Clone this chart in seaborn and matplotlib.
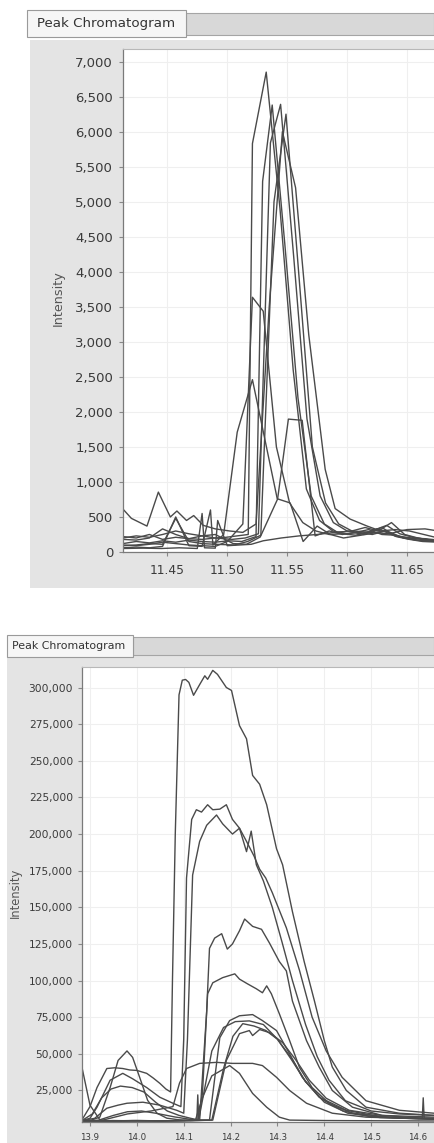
import pandas as pd
import seaborn as sns
import matplotlib.pyplot as plt
from matplotlib.patches import Rectangle
from matplotlib.ticker import FuncFormatter

# ---- top panel: peak near 11.55 min ----
top1_t = [11.413, 11.424, 11.435, 11.446, 11.457, 11.468, 11.479, 11.490, 11.499, 11.5175, 11.521, 11.5325, 11.544, 11.555, 11.566, 11.577, 11.588, 11.599, 11.610, 11.621, 11.632, 11.643, 11.654, 11.665, 11.676]
top1_i = [220, 200, 250, 180, 210, 190, 230, 200, 210, 250, 5830, 6850, 4900, 2600, 900, 450, 300, 260, 280, 250, 300, 220, 200, 190, 170]

top2_t = [11.413, 11.424, 11.435, 11.446, 11.457, 11.468, 11.479, 11.490, 11.501, 11.512, 11.524, 11.5295, 11.5375, 11.548, 11.559, 11.570, 11.581, 11.592, 11.603, 11.614, 11.625, 11.636, 11.647, 11.658, 11.676]
top2_i = [120, 150, 130, 160, 140, 170, 150, 140, 160, 150, 220, 5290, 6380, 4400, 2200, 800, 400, 280, 300, 250, 330, 280, 200, 170, 150]

top3_t = [11.413, 11.424, 11.435, 11.446, 11.457, 11.468, 11.479, 11.490, 11.504, 11.515, 11.526, 11.536, 11.5445, 11.5555, 11.5665, 11.5775, 11.5885, 11.600, 11.611, 11.622, 11.633, 11.644, 11.655, 11.666, 11.676]
top3_i = [180, 170, 200, 330, 250, 190, 180, 200, 180, 200, 260, 5840, 6390, 4200, 1900, 800, 420, 300, 260, 310, 380, 260, 210, 180, 160]

top4_t = [11.413, 11.424, 11.435, 11.446, 11.457, 11.468, 11.479, 11.490, 11.506, 11.517, 11.528, 11.539, 11.549, 11.560, 11.571, 11.582, 11.593, 11.604, 11.615, 11.626, 11.637, 11.648, 11.659, 11.676]
top4_i = [90, 100, 120, 110, 480, 150, 120, 110, 100, 150, 240, 5000, 6250, 3900, 1500, 700, 400, 300, 350, 300, 420, 250, 200, 150]

top5_t = [11.411, 11.420, 11.433, 11.4425, 11.4525, 11.458, 11.466, 11.472, 11.480, 11.490, 11.502, 11.513, 11.524, 11.535, 11.546, 11.557, 11.568, 11.5817, 11.590, 11.6025, 11.6167, 11.628, 11.640, 11.652, 11.664, 11.676]
top5_i = [650, 480, 370, 855, 500, 585, 450, 520, 380, 330, 300, 280, 400, 3500, 6000, 5200, 3100, 1180, 620, 470, 370, 300, 320, 300, 250, 200]

top6_t = [11.413, 11.424, 11.435, 11.446, 11.457, 11.468, 11.479, 11.490, 11.500, 11.513, 11.521, 11.530, 11.541, 11.552, 11.563, 11.574, 11.585, 11.596, 11.607, 11.618, 11.629, 11.640, 11.651, 11.662, 11.676]
top6_i = [100, 90, 110, 140, 120, 100, 90, 80, 150, 400, 3636, 3437, 1500, 700, 420, 300, 250, 260, 240, 280, 350, 230, 190, 160, 150]

top7_t = [11.413, 11.424, 11.435, 11.446, 11.457, 11.468, 11.479, 11.486, 11.488, 11.497, 11.5083, 11.521, 11.5417, 11.5525, 11.5633, 11.575, 11.586, 11.597, 11.608, 11.619, 11.630, 11.641, 11.652, 11.663, 11.676]
top7_i = [60, 70, 60, 80, 500, 90, 80, 600, 100, 250, 1710, 2460, 760, 700, 150, 370, 250, 200, 230, 260, 300, 220, 180, 150, 140]

top8_t = [11.413, 11.424, 11.435, 11.446, 11.457, 11.468, 11.479, 11.490, 11.505, 11.516, 11.5275, 11.542, 11.551, 11.5625, 11.5733, 11.585, 11.596, 11.607, 11.618, 11.629, 11.640, 11.651, 11.662, 11.676]
top8_i = [200, 230, 210, 250, 300, 260, 230, 250, 120, 110, 214, 756, 1897, 1880, 230, 300, 250, 280, 320, 250, 240, 200, 180, 170]

top9_t = [11.413, 11.430, 11.445, 11.460, 11.475, 11.479, 11.481, 11.490, 11.492, 11.500, 11.510, 11.520, 11.530, 11.545, 11.560, 11.575, 11.590, 11.605, 11.620, 11.635, 11.650, 11.665, 11.676]
top9_i = [50, 55, 50, 60, 50, 550, 60, 55, 450, 90, 100, 110, 160, 200, 230, 250, 280, 300, 280, 260, 320, 330, 300]

top_yticks = list(range(0, 7001, 500))
top_xticks = [11.45, 11.50, 11.55, 11.60, 11.65]

# ---- bottom panel: peak near 14.2 min ----
bot1_t = [13.883, 13.900, 13.915, 13.936, 13.953, 13.970, 13.985, 14.000, 14.021, 14.035, 14.049, 14.062, 14.072, 14.076, 14.082, 14.090, 14.097, 14.104, 14.111, 14.121, 14.134, 14.145, 14.151, 14.162, 14.172, 14.191, 14.202, 14.219, 14.234, 14.247, 14.262, 14.277, 14.298, 14.311, 14.332, 14.357, 14.379, 14.400, 14.417, 14.447, 14.489, 14.560, 14.634]
bot1_i = [5000, 14000, 27000, 40000, 40500, 40000, 39000, 38700, 36700, 33500, 29900, 26000, 24000, 100000, 200000, 295000, 305000, 305500, 303500, 294700, 302000, 308000, 305600, 311700, 309000, 300000, 298000, 274000, 265000, 240000, 234000, 220000, 190000, 179000, 147000, 113000, 86000, 59000, 41000, 25000, 13600, 9500, 8000]

bot2_t = [13.883, 13.900, 13.915, 13.943, 13.970, 13.991, 14.021, 14.049, 14.077, 14.094, 14.100, 14.106, 14.117, 14.127, 14.138, 14.151, 14.162, 14.177, 14.191, 14.204, 14.219, 14.234, 14.250, 14.262, 14.275, 14.289, 14.319, 14.347, 14.374, 14.404, 14.438, 14.489, 14.560, 14.634]
bot2_i = [4500, 6000, 13600, 32000, 36700, 33000, 27000, 20400, 16300, 14000, 60000, 170000, 210000, 216600, 215000, 220000, 216600, 217000, 220000, 210000, 204000, 195000, 185000, 176000, 170000, 160000, 136000, 107000, 75000, 52000, 34000, 18000, 11500, 9500]

bot3_t = [13.883, 13.910, 13.936, 13.960, 13.979, 14.013, 14.049, 14.085, 14.100, 14.108, 14.119, 14.134, 14.149, 14.170, 14.183, 14.204, 14.219, 14.234, 14.244, 14.255, 14.270, 14.289, 14.310, 14.332, 14.360, 14.385, 14.410, 14.445, 14.50, 14.56, 14.634]
bot3_i = [4500, 6000, 12900, 15000, 16300, 17000, 15000, 11500, 9500, 60000, 172000, 195000, 206000, 213000, 207000, 200000, 204000, 188000, 202000, 179000, 168000, 150000, 126000, 100000, 70000, 48000, 32000, 18000, 11000, 9000, 8000]

bot4_t = [13.883, 13.900, 13.921, 13.943, 13.960, 13.979, 13.991, 14.006, 14.023, 14.043, 14.064, 14.090, 14.115, 14.134, 14.149, 14.155, 14.166, 14.181, 14.193, 14.204, 14.219, 14.230, 14.247, 14.266, 14.283, 14.304, 14.319, 14.332, 14.362, 14.389, 14.417, 14.460, 14.523, 14.634]
bot4_i = [4000, 4500, 6800, 27000, 45500, 52000, 47600, 34000, 18300, 9500, 6100, 5000, 4500, 4800, 79000, 122000, 129000, 132000, 121500, 125000, 134000, 142000, 137000, 135000, 125600, 113000, 106600, 86000, 59000, 41000, 25000, 13600, 8000, 6800]

bot5_t = [13.883, 13.905, 13.925, 13.945, 13.965, 13.990, 14.015, 14.040, 14.065, 14.090, 14.115, 14.130, 14.140, 14.151, 14.162, 14.183, 14.209, 14.219, 14.236, 14.255, 14.268, 14.277, 14.287, 14.304, 14.326, 14.347, 14.374, 14.411, 14.460, 14.560, 14.634]
bot5_i = [4500, 9000, 20000, 26000, 28000, 27000, 24000, 17000, 11000, 8000, 6000, 5000, 23000, 91000, 98500, 102000, 104600, 101000, 97800, 94400, 91700, 96400, 91000, 77400, 59000, 40700, 27000, 16000, 9500, 6100, 5500]

bot6_t = [13.883, 13.900, 13.921, 13.950, 13.980, 14.010, 14.040, 14.080, 14.120, 14.155, 14.177, 14.198, 14.219, 14.247, 14.268, 14.298, 14.326, 14.353, 14.389, 14.447, 14.523, 14.634]
bot6_i = [40700, 15000, 5000, 8000, 10500, 11000, 9500, 7000, 5000, 4800, 61000, 72700, 76000, 76800, 72700, 65900, 50000, 34000, 20400, 11500, 6800, 6100]

bot7_t = [13.883, 13.95, 14.00, 14.05, 14.10, 14.128, 14.130, 14.132, 14.160, 14.185, 14.210, 14.240, 14.270, 14.300, 14.330, 14.360, 14.400, 14.450, 14.52, 14.634]
bot7_i = [4000, 4200, 4500, 4300, 4500, 4800, 22000, 5000, 52000, 68000, 72000, 72500, 70000, 60000, 46000, 31000, 17000, 9500, 6500, 5500]

bot8_t = [13.883, 13.96, 14.04, 14.12, 14.160, 14.185, 14.205, 14.226, 14.250, 14.275, 14.300, 14.330, 14.360, 14.395, 14.440, 14.50, 14.634]
bot8_i = [4000, 4000, 4300, 4500, 4800, 40000, 62000, 70600, 69000, 66000, 60000, 47000, 31000, 19000, 11000, 7000, 5500]

bot9_t = [13.883, 13.95, 14.05, 14.13, 14.162, 14.191, 14.219, 14.240, 14.247, 14.262, 14.283, 14.311, 14.340, 14.368, 14.404, 14.453, 14.523, 14.609, 14.611, 14.613, 14.634]
bot9_i = [4000, 4500, 4000, 4500, 4800, 45500, 63800, 65900, 62500, 66600, 64500, 57700, 45500, 32000, 19700, 11500, 8000, 6000, 20000, 6000, 5800]

bot10_t = [13.883, 13.93, 13.98, 14.03, 14.077, 14.091, 14.106, 14.134, 14.170, 14.204, 14.247, 14.268, 14.298, 14.326, 14.362, 14.417, 14.489, 14.634]
bot10_i = [4000, 5000, 9000, 11000, 14000, 30000, 40000, 43500, 44200, 43500, 43500, 42000, 34000, 25000, 16300, 9500, 6800, 5500]

bot11_t = [13.883, 13.93, 13.99, 14.05, 14.10, 14.125, 14.14, 14.16, 14.198, 14.219, 14.247, 14.277, 14.304, 14.326, 14.40, 14.634]
bot11_i = [4000, 4200, 4500, 4300, 4500, 4800, 20000, 35000, 42000, 36700, 23000, 13600, 6800, 4800, 4500, 4200]

bot_yticks = list(range(25000, 300001, 25000))
bot_xticks = [13.9, 14.0, 14.1, 14.2, 14.3, 14.4, 14.5, 14.6]


def to_long(runs):
    return pd.concat([pd.DataFrame({'time': t, 'intensity': i, 'run': k})
                      for k, (t, i) in enumerate(runs)], ignore_index=True)


df_top = to_long([(top1_t, top1_i), (top2_t, top2_i), (top3_t, top3_i), (top4_t, top4_i),
                  (top5_t, top5_i), (top6_t, top6_i), (top7_t, top7_i), (top8_t, top8_i),
                  (top9_t, top9_i)])
df_bot = to_long([(bot1_t, bot1_i), (bot2_t, bot2_i), (bot3_t, bot3_i), (bot4_t, bot4_i),
                  (bot5_t, bot5_i), (bot6_t, bot6_i), (bot7_t, bot7_i), (bot8_t, bot8_i),
                  (bot9_t, bot9_i), (bot10_t, bot10_i), (bot11_t, bot11_i)])

sns.set_style('white')
plt.rcParams['font.family'] = ['DejaVu Sans']

W, H = 434, 1143
fig = plt.figure(figsize=(W / 100, H / 100), dpi=100)
fig.patch.set_facecolor('white')


def box(x0, y0, x1, y1, **kw):
    # rectangle in pixel coords (origin top-left), drawn behind the axes
    fig.patches.append(Rectangle((x0 / W, 1 - y1 / H), (x1 - x0) / W, (y1 - y0) / H,
                                 transform=fig.transFigure, figure=fig, zorder=-5, **kw))


def style_axis(ax, ylabsize, xlabsize, ypad, xpad):
    ax.set_xlabel('')
    ax.set_ylabel('')
    ax.set_facecolor('white')
    ax.grid(True, color='#efefef', lw=0.8)
    ax.set_axisbelow(True)
    for side in ['left', 'bottom']:
        ax.spines[side].set_color('#7a7a7a')
        ax.spines[side].set_linewidth(0.9)
    ax.spines['top'].set_color('#b8b8b8')
    ax.spines['right'].set_visible(False)
    ax.tick_params(axis='y', length=3, width=0.8, color='#888888', labelcolor='#3a3a3a',
                   labelsize=ylabsize, pad=ypad, left=True)
    ax.tick_params(axis='x', length=3, width=0.8, color='#888888', labelcolor='#3a3a3a',
                   labelsize=xlabsize, pad=xpad, bottom=True)


comma = FuncFormatter(lambda v, p: f'{v:,.0f}')

# ---- top panel frame ----
box(30, 40, 434, 588, facecolor='#e4e4e4', edgecolor='none')
box(186, 13, 434, 35, facecolor='#d8d8d8', edgecolor='#a5a5a5', lw=0.8)
box(27, 10, 186, 37, facecolor='#f6f6f6', edgecolor='#9a9a9a', lw=0.8)
fig.text(37 / W, 1 - 24 / H, 'Peak Chromatogram', fontsize=9.6, color='#333333', va='center', ha='left')
fig.text(58 / W, 1 - 298 / H, 'Intensity', fontsize=9.2, color='#555555', rotation=90,
         va='center', ha='center')

ax1 = fig.add_axes([123 / W, 1 - 552 / H, (W - 123) / W, (552 - 49) / H])
sns.lineplot(data=df_top, x='time', y='intensity', units='run', estimator=None, sort=False,
             color='#4a4a4a', lw=1.0, legend=False, ax=ax1)
ax1.set_xlim(11.413, 11.6725)
ax1.set_ylim(0, 7180)
ax1.set_yticks(top_yticks)
ax1.yaxis.set_major_formatter(comma)
ax1.set_xticks(top_xticks)
ax1.set_xticklabels([f'{v:.2f}' for v in top_xticks])
style_axis(ax1, 9.5, 8.8, 4.2, 6)

# ---- bottom panel frame ----
box(7, 656, 434, 1143, facecolor='#e4e4e4', edgecolor='none')
box(133, 637, 434, 655, facecolor='#d8d8d8', edgecolor='#a5a5a5', lw=0.8)
box(7, 635, 133, 657, facecolor='#f6f6f6', edgecolor='#9a9a9a', lw=0.8)
fig.text(12 / W, 1 - 646 / H, 'Peak Chromatogram', fontsize=7.9, color='#333333', va='center', ha='left')
fig.text(15 / W, 1 - 893 / H, 'Intensity', fontsize=8.3, color='#555555', rotation=90,
         va='center', ha='center')

ax2 = fig.add_axes([82 / W, 1 - 1122 / H, (W - 82) / W, (1122 - 667) / H])
sns.lineplot(data=df_bot, x='time', y='intensity', units='run', estimator=None, sort=False,
             color='#4a4a4a', lw=1.0, legend=False, ax=ax2)
ax2.set_xlim(13.883, 14.634)
ax2.set_ylim(3500, 314000)
ax2.set_yticks(bot_yticks)
ax2.yaxis.set_major_formatter(comma)
ax2.set_xticks(bot_xticks)
ax2.set_xticklabels([f'{v:.1f}' for v in bot_xticks])
style_axis(ax2, 7.7, 6.2, 3.5, 5)

fig.savefig('out.png', dpi=100, facecolor='white')
